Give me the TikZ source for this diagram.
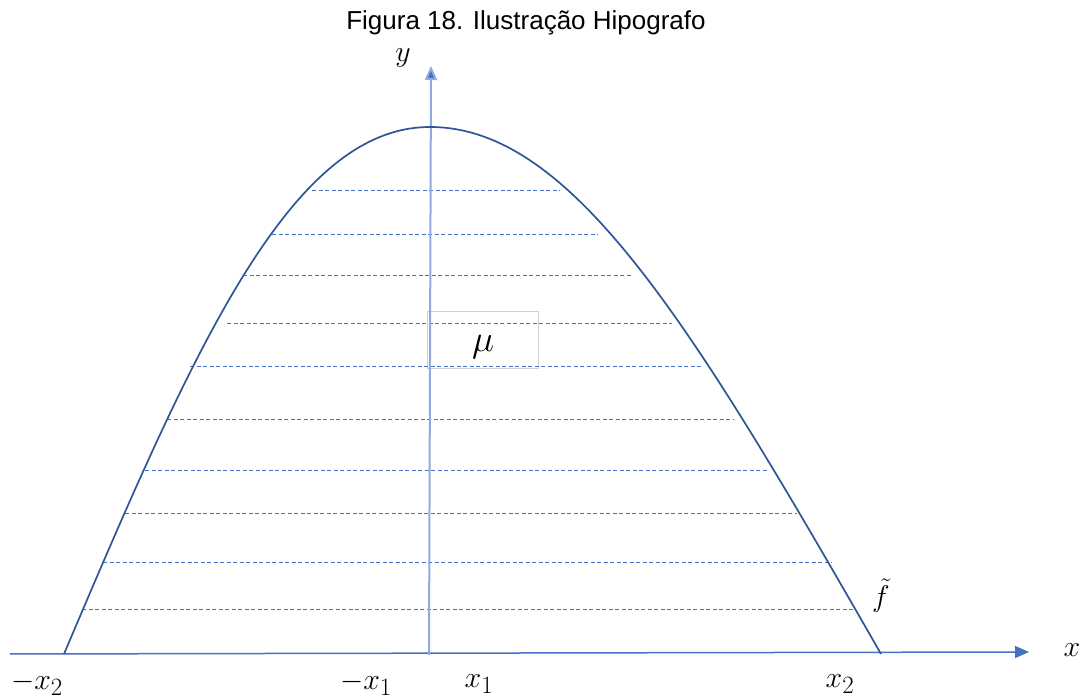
\documentclass[tikz,border=0pt]{standalone}
\usepackage{fontspec}
\setmainfont{Liberation Sans}
\usetikzlibrary{arrows.meta}
\definecolor{curveblue}{HTML}{2F5597}
\definecolor{axisblue}{HTML}{4472C4}
\definecolor{yaxisblue}{HTML}{8FAADC}
\definecolor{boxgray}{HTML}{D0D0D0}
\tikzset{
  curveline/.style={draw=curveblue, line width=1.7pt},
  axisline/.style={draw=axisblue, line width=1.5pt, -{Triangle[length=14pt,width=12pt]}},
  yaxisline/.style={draw=yaxisblue, line width=2pt, -{Triangle[length=14pt,width=12pt,fill=axisblue]}},
  hatch/.style={draw=axisblue, line width=0.9pt, dash pattern=on 4pt off 2.5pt},
  lab/.style={inner sep=0pt, font=\fontsize{24.88}{28}\selectfont, scale=1.2},
}
\begin{document}
\begin{tikzpicture}[x=1pt,y=-1pt]
\useasboundingbox (0,0) rectangle (1088,700);
% title
\node[inner sep=0pt, font=\fontsize{26}{30}\selectfont] (title) at (526,23) {Figura 18. Ilustração Hipografo};
% mu box
\node[draw=boxgray, line width=0.8pt, minimum width=111pt, minimum height=57pt, inner sep=0pt] (mubox) at (482.5,339.5) {};
\node[inner sep=0pt, font=\fontsize{24.88}{28}\selectfont, scale=1.5] (mu) at (483,347) {$\mu$};
% hatching dashed lines
\foreach \yy/\xa/\xb in {190/312/560, 234/272/598, 275/243/632, 323/227/672, 366/190/703, 419/167/733, 470/145/768, 513/125/797, 562/103/832, 609/82/853}{
  \draw[hatch] (\xa,\yy) -- (\xb,\yy);
}
% axes
\coordinate (xstart) at (10,654);
\coordinate (xend) at (1029,652);
\coordinate (ystart) at (429,655);
\coordinate (yend) at (431,66);
\draw[axisline] (xstart) -- (xend);
\draw[yaxisline] (ystart) -- (yend);
% curve (hypograph boundary)
\coordinate (footL) at (64,654);
\coordinate (peak) at (430,127);
\coordinate (footR) at (881,654);
\draw[curveline] (footL) .. controls (193,350) and (290,127) .. (peak)
                         .. controls (572,127) and (692,324) .. (footR);
% labels
\node[lab] (ylab) at (403,58) {$y$};
\node[lab] (xlab) at (1072,650) {$x$};
\node[lab] (mx2) at (37,684) {$-x_2$};
\node[lab] (mx1) at (366,684) {$-x_1$};
\node[lab] (x1) at (479,684) {$x_1$};
\node[lab] (x2) at (840,684) {$x_2$};
\node[lab] (ft) at (881,596) {$\tilde{f}$};
\end{tikzpicture}
\end{document}
